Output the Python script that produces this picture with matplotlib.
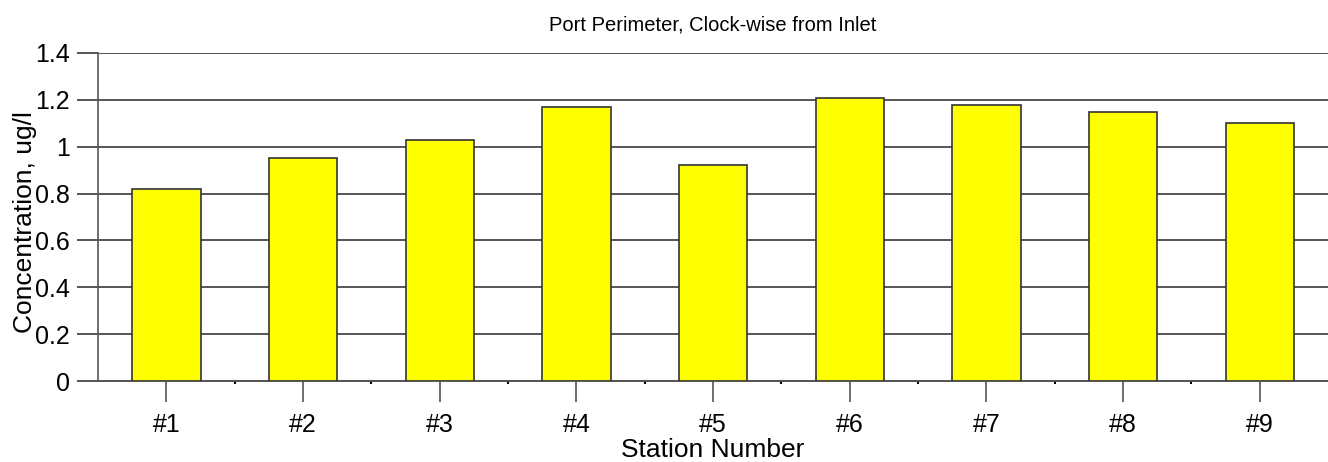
import matplotlib
matplotlib.use("Agg")
from matplotlib import pyplot as plt
import numpy as np

stations = ['#1', '#2', '#3', '#4', '#5', '#6', '#7', '#8', '#9']
concentration = [0.82, 0.95, 1.03, 1.17, 0.92, 1.21, 1.18, 1.15, 1.10]
yticks = [0, 0.2, 0.4, 0.6, 0.8, 1, 1.2, 1.4]
ytick_labels = ['0', '0.2', '0.4', '0.6', '0.8', '1', '1.2', '1.4']

plt.rcParams['font.family'] = ['Liberation Sans', 'DejaVu Sans']

fig = plt.figure(figsize=(13.28, 4.62), dpi=100)
ax = fig.add_axes([0.0738, 0.1753, 0.9262, 0.71])

x = np.arange(len(stations))
ax.bar(x, concentration, width=0.5, color='#ffff00', edgecolor='#333333', linewidth=1.2, zorder=3)

ax.set_xlim(-0.5, len(stations) - 0.5)
ax.set_ylim(0, 1.4)
ax.set_yticks(yticks)
ax.set_yticklabels(ytick_labels, fontsize=18)
ax.set_xticks(x)
ax.set_xticklabels(stations, fontsize=18)
ax.set_xticks(x[:-1] + 0.5, minor=True)

# grid lines also poke out left of the axis like ticks
ax.grid(axis='y', color='#555555', linewidth=1.4, zorder=0)
ax.tick_params(axis='y', length=15, width=1.4, color='#555555', pad=5)
ax.tick_params(axis='x', which='major', length=15, width=1.2, color='#555555', pad=8)
ax.tick_params(axis='x', which='minor', length=2, width=1.5, color='black')

for s in ['top', 'right']:
    ax.spines[s].set_visible(False)
ax.spines['left'].set_color('#555555')
ax.spines['left'].set_linewidth(1.2)
ax.spines['bottom'].set_color('#555555')
ax.spines['bottom'].set_linewidth(1.4)

ax.set_title("Port Perimeter, Clock-wise from Inlet", fontsize=14.5, pad=16)
ax.set_xlabel("Station Number", fontsize=19, labelpad=1)
ax.set_ylabel("Concentration, ug/l", fontsize=19)
ax.yaxis.set_label_coords(-0.0496, 0.485)

fig.savefig('out.png', dpi=100)
